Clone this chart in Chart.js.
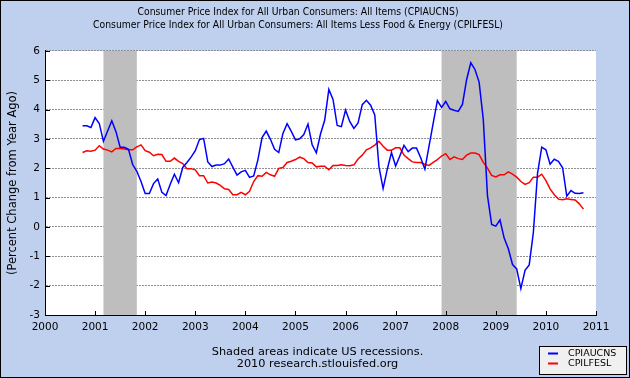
<!DOCTYPE html>
<html><head><meta charset="utf-8">
<script src="https://cdn.jsdelivr.net/npm/chart.js@4/dist/chart.umd.min.js"></script>
<style>html,body{margin:0;padding:0;background:#BFD0EF;}canvas{display:block;}</style>
</head><body>
<canvas id="c" width="630" height="378"></canvas>
<script>
const titleLines = [
  'Consumer Price Index for All Urban Consumers: All Items (CPIAUCNS)',
  'Consumer Price Index for All Urban Consumers: All Items Less Food & Energy (CPILFESL)'
];
const yAxisTitle = '(Percent Change from Year Ago)';
const footnote = ['Shaded areas indicate US recessions.', '2010 research.stlouisfed.org'];
const seriesNames = ['CPIAUCNS', 'CPILFESL'];
const firstObs = { year: 2000, month: 10 };   // monthly observations, Oct 2000 .. Oct 2010
const cpiAll = [
  3.45, 3.45, 3.39,
  3.73, 3.53, 2.92, 3.27, 3.62, 3.25, 2.72, 2.72, 2.65, 2.13, 1.90, 1.55,
  1.14, 1.14, 1.48, 1.64, 1.18, 1.07, 1.46, 1.80, 1.51, 2.03, 2.20, 2.38,
  2.60, 2.98, 3.02, 2.22, 2.06, 2.11, 2.11, 2.16, 2.32, 2.04, 1.77, 1.88,
  1.93, 1.69, 1.74, 2.29, 3.05, 3.27, 2.99, 2.65, 2.54, 3.19, 3.52, 3.26,
  2.97, 3.01, 3.15, 3.51, 2.80, 2.53, 3.17, 3.64, 4.69, 4.35, 3.46, 3.42,
  3.99, 3.60, 3.36, 3.55, 4.17, 4.32, 4.15, 3.82, 2.06, 1.31, 1.97, 2.54,
  2.08, 2.42, 2.78, 2.57, 2.69, 2.69, 2.36, 1.97, 2.76, 3.54, 4.31, 4.08,
  4.28, 4.03, 3.98, 3.94, 4.18, 5.02, 5.60, 5.37, 4.94, 3.66, 1.07, 0.09,
  0.03, 0.24, -0.38, -0.74, -1.28, -1.43, -2.10, -1.48, -1.29, -0.18, 1.84, 2.72,
  2.63, 2.14, 2.31, 2.24, 2.02, 1.05, 1.24, 1.15, 1.14, 1.17
];
const cpiCore = [
  2.54, 2.60, 2.58,
  2.62, 2.77, 2.66, 2.62, 2.56, 2.68, 2.68, 2.66, 2.63, 2.63, 2.73, 2.80,
  2.60, 2.55, 2.43, 2.48, 2.47, 2.24, 2.24, 2.35, 2.24, 2.16, 1.99, 1.99,
  1.95, 1.75, 1.75, 1.50, 1.53, 1.50, 1.42, 1.30, 1.28, 1.10, 1.10, 1.18,
  1.10, 1.22, 1.55, 1.75, 1.73, 1.86, 1.78, 1.73, 2.00, 2.03, 2.20, 2.24,
  2.30, 2.38, 2.33, 2.20, 2.18, 2.05, 2.07, 2.07, 1.95, 2.10, 2.10, 2.12,
  2.10, 2.09, 2.12, 2.32, 2.45, 2.63, 2.70, 2.79, 2.92, 2.75, 2.62, 2.62,
  2.70, 2.70, 2.45, 2.33, 2.22, 2.20, 2.20, 2.13, 2.10, 2.20, 2.30, 2.42,
  2.50, 2.30, 2.39, 2.33, 2.30, 2.45, 2.52, 2.52, 2.47, 2.20, 2.01, 1.76,
  1.71, 1.78, 1.78, 1.88, 1.80, 1.70, 1.55, 1.45, 1.51, 1.70, 1.70, 1.80,
  1.58, 1.30, 1.10, 0.95, 0.93, 0.96, 0.94, 0.92, 0.79, 0.61
];
// recessions as [start, end] in fractional years (Mar 2001 - Nov 2001, Dec 2007 - Jun 2009)
const recessions = [[2001 + 2 / 12, 2001 + 10 / 12], [2007 + 11 / 12, 2009 + 5 / 12]];
const xRange = [2000, 2011];
const yRange = [-3, 6];

const months = cpiAll.map((_, i) => firstObs.year + (firstObs.month - 1 + i) / 12);
const toPoints = vals => vals.map((v, i) => ({ x: months[i], y: v }));

const BG = '#BFD0EF';
const FONT = "'DejaVu Sans', Verdana, sans-serif";

const fredPlugin = {
  id: 'fred',
  beforeDraw(chart) {
    const { ctx, chartArea: a } = chart;
    ctx.save();
    ctx.fillStyle = BG;
    ctx.fillRect(0, 0, chart.width, chart.height);
    ctx.fillStyle = '#FFFFFF';
    ctx.fillRect(a.left, a.top, a.right - a.left, a.bottom - a.top);
    ctx.restore();
  },
  beforeDatasetsDraw(chart) {
    const { ctx, chartArea: a, scales: { x } } = chart;
    ctx.save();
    ctx.fillStyle = '#BEBEBE';
    recessions.forEach(([s, e]) => {
      const x1 = x.getPixelForValue(s), x2 = x.getPixelForValue(e);
      ctx.fillRect(x1, a.top, x2 - x1, a.bottom - a.top);
    });
    ctx.restore();
  },
  afterDraw(chart) {
    const { ctx, chartArea: a, scales: { x, y } } = chart;
    ctx.save();
    // inward tick marks
    ctx.strokeStyle = '#000';
    ctx.lineWidth = 1;
    ctx.beginPath();
    y.ticks.forEach(t => {
      const py = Math.round(y.getPixelForValue(t.value)) + 0.5;
      ctx.moveTo(a.left, py); ctx.lineTo(a.left + 5, py);
    });
    x.ticks.forEach(t => {
      const px = Math.round(x.getPixelForValue(t.value)) + 0.5;
      ctx.moveTo(px, a.bottom - 4); ctx.lineTo(px, a.bottom + 1);
    });
    ctx.stroke();
    // footnote
    ctx.fillStyle = '#000';
    ctx.font = "11.3px " + FONT;
    ctx.textAlign = 'center';
    ctx.textBaseline = 'middle';
    ctx.fillText(footnote[0], 317.5, 352);
    ctx.fillText(footnote[1], 317.5, 364.5);
    // legend box
    ctx.fillStyle = '#F0F0F0';
    ctx.fillRect(539.5, 346.5, 87, 28);
    ctx.strokeStyle = '#000';
    ctx.strokeRect(539.5, 346.5, 87, 28);
    chart.data.datasets.forEach((ds, i) => {
      const ly = 353.5 + i * 10;
      ctx.strokeStyle = ds.borderColor;
      ctx.lineWidth = 2;
      ctx.beginPath(); ctx.moveTo(548, ly); ctx.lineTo(558, ly); ctx.stroke();
      ctx.fillStyle = '#000';
      ctx.font = "9.5px " + FONT;
      ctx.textAlign = 'left';
      ctx.fillText(ds.label, 568, ly);
    });
    // outer border
    ctx.strokeStyle = '#000';
    ctx.lineWidth = 1;
    ctx.strokeRect(0.5, 0.5, chart.width - 1, chart.height - 1);
    ctx.restore();
  }
};

new Chart(document.getElementById('c'), {
  type: 'line',
  data: {
    datasets: [
      { label: seriesNames[0], data: toPoints(cpiAll), borderColor: '#0000FF', borderWidth: 1.5, pointRadius: 0, tension: 0, fill: false },
      { label: seriesNames[1], data: toPoints(cpiCore), borderColor: '#FF0000', borderWidth: 1.5, pointRadius: 0, tension: 0, fill: false }
    ]
  },
  options: {
    responsive: false,
    animation: false,
    devicePixelRatio: 1,
    layout: { padding: { left: 0, top: 0, right: 34, bottom: 0 } },
    plugins: {
      legend: { display: false },
      tooltip: { enabled: false },
      title: {
        display: true,
        text: titleLines,
        color: '#000',
        font: { family: "'DejaVu Sans Condensed', 'Liberation Sans', sans-serif", size: 10.3, weight: 'normal', lineHeight: 1.233 },
        padding: { top: 6, bottom: 19.6 }
      }
    },
    scales: {
      x: {
        type: 'linear',
        min: xRange[0], max: xRange[1],
        afterFit(s) { s.height = 63; },
        ticks: { stepSize: 1, color: '#000', padding: 6, font: { family: FONT, size: 10.5 }, callback: v => String(v) , maxRotation: 0, autoSkip: false},
        grid: { display: true, color: 'rgba(0,0,0,0)', drawTicks: false },
        border: { display: true, color: '#000', width: 1 }
      },
      y: {
        min: yRange[0], max: yRange[1],
        afterFit(s) { s.width = 45; },
        ticks: { stepSize: 1, color: '#000', padding: 5, font: { family: FONT, size: 10.5 } },
        grid: { color: '#909090', lineWidth: 1, drawTicks: false },
        border: { display: true, color: '#000', width: 1, dash: [2, 1] },
        title: { display: true, text: yAxisTitle, color: '#000', font: { family: FONT, size: 11.5 }, padding: { top: 6.4, bottom: 0 } }
      }
    }
  },
  plugins: [fredPlugin]
});
</script>
</body></html>
